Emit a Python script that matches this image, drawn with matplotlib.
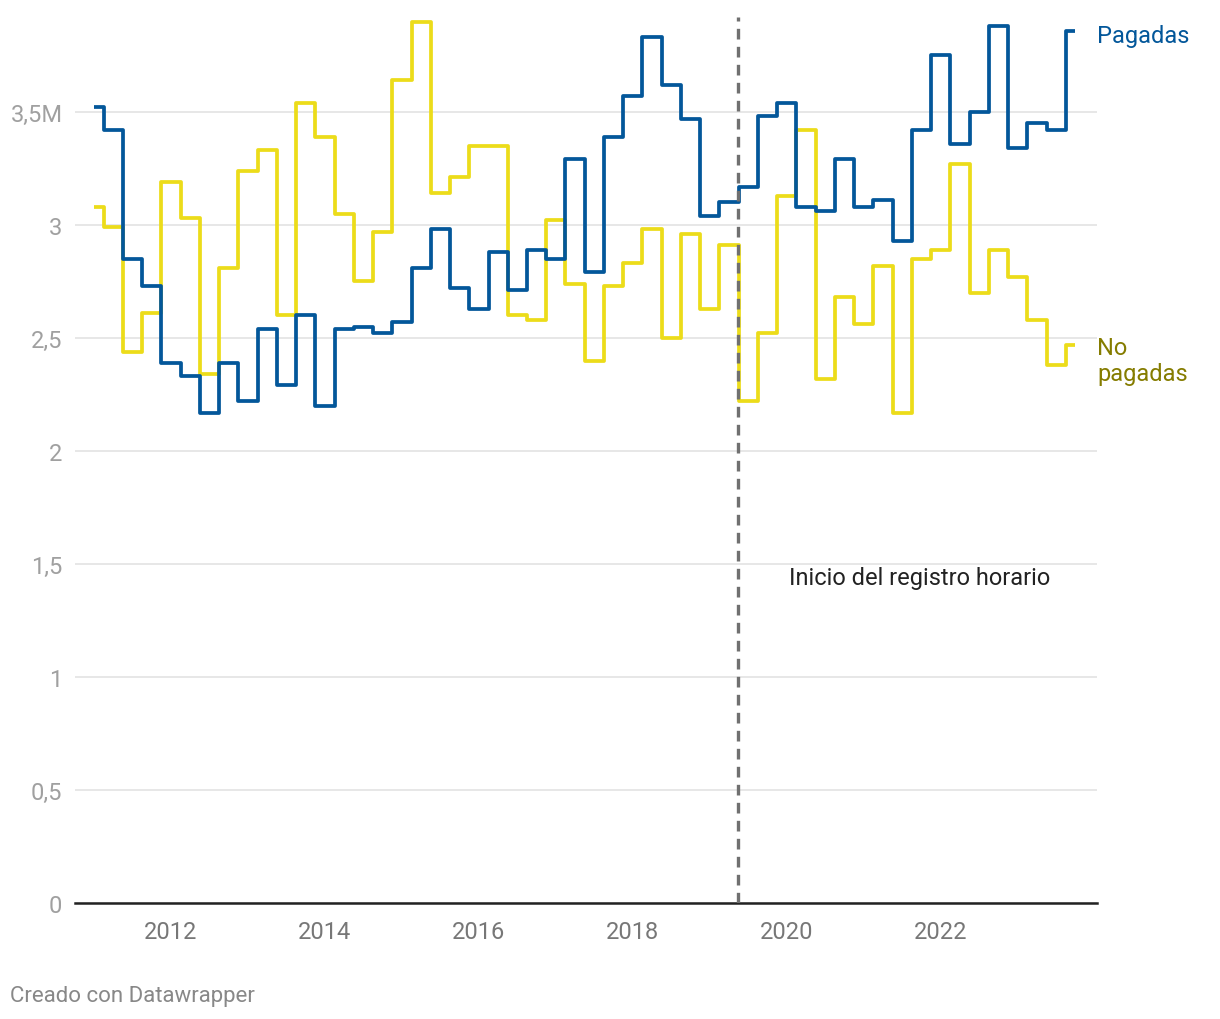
import numpy as np
import matplotlib.pyplot as plt

# trimestres 2011T1 - 2023T4 (millones de horas extra)
quarters = np.arange(2011, 2024, 0.25)
pagadas = [3.52, 3.42, 2.85, 2.73, 2.39, 2.33, 2.17, 2.39, 2.22, 2.54, 2.29, 2.60,
           2.20, 2.54, 2.55, 2.52, 2.57, 2.81, 2.98, 2.72, 2.63, 2.88, 2.71, 2.89,
           2.85, 3.29, 2.79, 3.39, 3.57, 3.83, 3.62, 3.47, 3.04, 3.10, 3.17, 3.48,
           3.54, 3.08, 3.06, 3.29, 3.08, 3.11, 2.93, 3.42, 3.75, 3.36, 3.50, 3.88,
           3.34, 3.45, 3.42, 3.86]
no_pagadas = [3.08, 2.99, 2.44, 2.61, 3.19, 3.03, 2.34, 2.81, 3.24, 3.33, 2.60, 3.54,
              3.39, 3.05, 2.75, 2.97, 3.64, 3.90, 3.14, 3.21, 3.35, 3.35, 2.60, 2.58,
              3.02, 2.74, 2.40, 2.73, 2.83, 2.98, 2.50, 2.96, 2.63, 2.91, 2.22, 2.52,
              3.13, 3.42, 2.32, 2.68, 2.56, 2.82, 2.17, 2.85, 2.89, 3.27, 2.70, 2.89,
              2.77, 2.58, 2.38, 2.47]
registro = 2019.36  # 12 mayo 2019
yticks = [0, 0.5, 1, 1.5, 2, 2.5, 3, 3.5]
ylabels = ['0', '0,5', '1', '1,5', '2', '2,5', '3', '3,5M']
xticks = [2012, 2014, 2016, 2018, 2020, 2022]

blue = '#03579a'
yellow = '#ecdc1a'
olive = '#857c00'

plt.rcParams['font.family'] = ['Roboto', 'DejaVu Sans']

fig = plt.figure(figsize=(12.2, 10.2), dpi=100)
ax = fig.add_axes([75/1220, (1020-904)/1020, (1097-75)/1220, (904-18)/1020])

ax.step(quarters, no_pagadas, where='mid', color=yellow, lw=2.7, zorder=3,
        solid_capstyle='butt')
ax.step(quarters, pagadas, where='mid', color=blue, lw=2.7, zorder=4,
        solid_capstyle='butt')
ax.axvline(registro, color='#707070', lw=2.4, ls=(0, (3.2, 2.2)), zorder=5)

ax.set_xlim(2010.753, 2024.03)
ax.set_ylim(0, 3.92)

ax.set_yticks(yticks)
ax.set_yticklabels(ylabels)
ax.set_xticks(xticks)
ax.grid(axis='y', color='#e3e3e3', lw=1.2, zorder=0)
for s in ['left', 'right', 'top']:
    ax.spines[s].set_visible(False)
ax.spines['bottom'].set_color('#222222')
ax.spines['bottom'].set_linewidth(1.8)
ax.tick_params(axis='y', length=0, pad=9, labelsize=17, labelcolor='#a0a0a0')
ax.tick_params(axis='x', length=0, pad=12, labelsize=17, labelcolor='#777777')

ax.text(1.0, 3.84, 'Pagadas', transform=ax.get_yaxis_transform(), color=blue,
        fontsize=17, va='center', ha='left')
ax.text(1.0, 2.40, 'No\npagadas', transform=ax.get_yaxis_transform(), color=olive,
        fontsize=17, va='center', ha='left', linespacing=1.15)
ax.text(2020.03, 1.44, 'Inicio del registro horario', color='#222222',
        fontsize=17, va='center', ha='left')

fig.text(10/1220, 1 - 997/1020, 'Creado con Datawrapper', color='#888888',
         fontsize=16, va='center', ha='left')

fig.savefig('out.png', dpi=100)
